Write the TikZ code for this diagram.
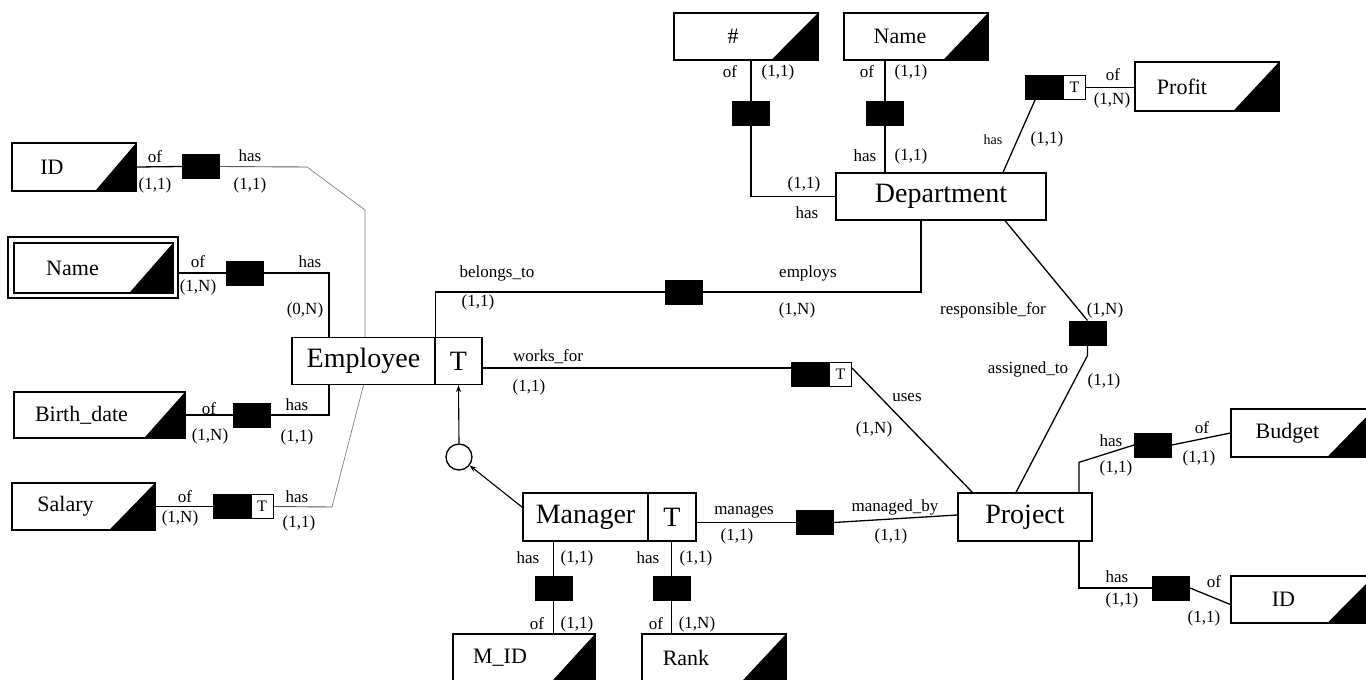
\documentclass[tikz,border=0pt]{standalone}
\usepackage{fontspec}
\setmainfont{Liberation Serif}
\usetikzlibrary{arrows.meta}
\newcommand\lblfont{\fontsize{17}{19}\selectfont}
\newcommand\smlblfont{\fontsize{14}{16}\selectfont}
\newcommand\entfont{\fontsize{28}{31}\selectfont}
\newcommand\attrfont{\fontsize{22}{24}\selectfont}
\newcommand\tfont{\fontsize{16}{18}\selectfont}
% black corner wedge of an attribute box: [wedge width]{node}
\newcommand\attrwedge[2][46]{\fill ([xshift=-#1pt]#2.south east) -- (#2.north east) -- (#2.south east) -- cycle;}
\begin{document}
\begin{tikzpicture}[x=1pt,y=-1pt,
  line/.style={line width=1.3pt},
  faint/.style={line width=0.7pt, gray},
  entity/.style={draw, line width=1.3pt, fill=white, inner sep=0pt, font=\entfont, minimum height=47pt},
  attr/.style 2 args={draw, line width=1.3pt, fill=white, inner sep=0pt,
     label={[font=\attrfont, xshift=#2 pt]center:#1}},
  rel/.style={fill=black, draw, line width=1pt, minimum width=37pt, minimum height=24pt, inner sep=0pt},
  relt/.style={draw, line width=1pt, fill=white, minimum width=22pt, minimum height=24pt, inner sep=0pt, font=\tfont},
  lbl/.style={font=\lblfont, inner sep=0pt},
  isa/.style={line width=1.1pt, -{Stealth[length=7pt,width=5pt]}},
]
\useasboundingbox (0,0) rectangle (1366,680);

% ---------- entities ----------
\node[entity, minimum width=143pt] (emp) at (363.5,361) {Employee};
\node[entity, minimum width=47pt] (empT) at (458.5,361) {T};
\node[entity, minimum width=210pt] (dept) at (941,196.5) {Department};
\node[entity, minimum width=134pt, minimum height=48pt] (proj) at (1025,517) {Project};
\node[entity, minimum width=125pt, minimum height=48pt] (mgr) at (585.5,517) {Manager};
\node[entity, minimum width=48pt, minimum height=48pt] (mgrT) at (672,517) {T};
\node[draw, circle, line width=1.3pt, minimum size=26pt, inner sep=0pt] (circ) at (459,457) {};

% ---------- attributes ----------
\node[attr={ID}{-22}, minimum width=124pt, minimum height=48pt] (idE) at (74,167) {};
\attrwedge[42]{idE}
\node[draw, line width=1.3pt, minimum width=170pt, minimum height=61pt, inner sep=0pt] (nameEo) at (93,267.5) {};
\node[attr={Name}{-21}, minimum width=159pt, minimum height=50pt] (nameE) at (93.5,268) {};
\attrwedge[45]{nameE}
\node[attr={Birth\_date}{-18}, minimum width=171pt, minimum height=46pt] (birth) at (99.5,415) {};
\attrwedge[42]{birth}
\node[attr={Salary}{-18}, minimum width=143pt, minimum height=47pt] (salary) at (83.5,506.5) {};
\attrwedge[47]{salary}
\node[attr={\#}{-13}, minimum width=144pt, minimum height=47pt] (hash) at (746,36.5) {};
\attrwedge[48]{hash}
\node[attr={Name}{-16}, minimum width=144pt, minimum height=47pt] (nameD) at (916,36.5) {};
\attrwedge[46]{nameD}
\node[attr={Profit}{-25}, minimum width=144pt, minimum height=49pt] (profit) at (1207,86.5) {};
\attrwedge[47]{profit}
\node[attr={Budget}{-15}, minimum width=143pt, minimum height=48pt] (budget) at (1302.5,433) {};
\attrwedge[48]{budget}
\node[attr={ID}{-19}, minimum width=143pt, minimum height=47pt] (idP) at (1302.5,599.5) {};
\attrwedge[48]{idP}
\node[attr={M\_ID}{-24}, minimum width=142pt, minimum height=48pt] (mid) at (524,658) {};
\attrwedge[45]{mid}
\node[attr={Rank}{-28}, minimum width=144pt, minimum height=48pt] (rank) at (714,658) {};
\attrwedge[46]{rank}

% ---------- relationships ----------
\node[rel] (r1) at (201,166.5) {};
\node[rel] (r2) at (245,273) {};
\node[rel] (r3) at (251.5,415) {};
\node[rel] (r4) at (231.5,506.5) {};
\node[relt, anchor=west] (r4t) at (r4.east) {T};
\node[rel] (r5) at (751,113.5) {};
\node[rel] (r6) at (885,113.5) {};
\node[rel] (r7) at (1044,87.5) {};
\node[relt, anchor=west] (r7t) at (r7.east) {T};
\node[rel] (r8) at (684,292) {};
\node[rel] (r9) at (810,374) {};
\node[relt, anchor=west] (r9t) at (r9.east) {T};
\node[rel] (r10) at (1087.5,333) {};
\node[rel] (r11) at (1153,445) {};
\node[rel] (r12) at (1171,588) {};
\node[rel] (r13) at (814.5,522.5) {};
\node[rel] (r14) at (553.5,588.5) {};
\node[rel] (r15) at (671.5,588.5) {};

% ---------- bend points ----------
\coordinate (b1) at (307,167);
\coordinate (b2) at (365,210);
\coordinate (b3) at (329,273);
\coordinate (b4) at (329,415);
\coordinate (b5) at (332,507);
\coordinate (b7) at ([xshift=-20pt]dept.south);
\coordinate (b8) at ([xshift=54pt]proj.north);
\coordinate (b9) at ([xshift=54pt]proj.south);

% ---------- Employee attributes ----------
\draw[line] (idE.east) -- (r1.west);
\draw[line width=0.9pt, gray!70!black] (r1.east) -- (b1);
\draw[faint] (b1) -- (b2) -- (b2 |- emp.north);
\draw[line] (r2.west -| nameEo.east) -- (r2.west);
\draw[line] (r2.east) -- (b3) -- (b3 |- emp.north);
\draw[line] (birth.east) -- (r3.west);
\draw[line] (r3.east) -- (b4) -- (b4 |- emp.south);
\draw[line] (salary.east) -- (r4.west);
\draw[line width=0.9pt, gray!70!black] (r4t.east) -- (b5);
\draw[faint] (b5) -- (emp.south);

% ---------- Department attributes ----------
\draw[line] (r5 |- hash.south) -- (r5.north);
\draw[line] (r5.south) -- (r5 |- dept.west) -- (dept.west);
\draw[line] (r6 |- nameD.south) -- (r6.north);
\draw[line] (r6.south) -- (r6 |- dept.north);
\draw[line] (r7t.east) -- (r7t.east -| profit.west);
\draw[line] ([xshift=-9pt]r7.south) -- ([xshift=62pt]dept.north);

% ---------- relationships between entities ----------
\draw[line] (emp.north east) -- (emp.north east |- r8.west) -- (r8.west);
\draw[line] (r8.east) -- (b7 |- r8.east) -- (b7);
\draw[line] ([yshift=-7pt]empT.east) -- ([yshift=6pt]r9.west);
\draw[line] ([yshift=6pt]r9t.east) -- ([xshift=15pt]proj.north west);
\draw[line] ([xshift=64pt]dept.south) -- (r10.north);
\draw[line] (r10.south) -- ++(0,10) -- ([xshift=-9pt]proj.north);
\draw[line] (mgrT.east |- r13.west) -- (r13.west);
\draw[line] (r13.east) -- ([yshift=2pt]proj.west);

% ---------- Project attributes ----------
\draw[line] (b8) -- ([yshift=30pt]b8) -- (r11.west);
\draw[line] (r11.east) -- (budget.west);
\draw[line] (b9) -- (b9 |- r12.west) -- (r12.west);
\draw[line] (r12.east) -- ([yshift=-5pt]idP.west);

% ---------- Manager attributes ----------
\draw[line] (r14 |- mgr.south) -- (r14.north);
\draw[line] (r14.south) -- (r14 |- mid.north);
\draw[line] (r15 |- mgrT.south) -- (r15.north);
\draw[line] (r15.south) -- (r15 |- rank.north);

% ---------- generalisation ----------
\draw[isa] (circ.north) -- (empT.south);
\draw[isa] ([yshift=-15pt]mgr.north west) -- (circ);

% ---------- role and cardinality labels ----------
\node[lbl] (t1) at (155,157) {of};
\node[lbl] (t2) at (155,185) {(1,1)};
\node[lbl] (t3) at (250,156) {has};
\node[lbl] (t4) at (250,185) {(1,1)};
\node[lbl] (t5) at (198,262) {of};
\node[lbl] (t6) at (198,287) {(1,N)};
\node[lbl] (t7) at (310,262) {has};
\node[lbl] (t8) at (305,310) {(0,N)};
\node[lbl] (t9) at (209,409) {of};
\node[lbl] (t10) at (210,436) {(1,N)};
\node[lbl] (t11) at (297,405) {has};
\node[lbl] (t12) at (297,437) {(1,1)};
\node[lbl] (t13) at (185,497) {of};
\node[lbl] (t14) at (180,518) {(1,N)};
\node[lbl] (t15) at (297,497) {has};
\node[lbl] (t16) at (299,523) {(1,1)};
\node[lbl] (t17) at (730,72) {of};
\node[lbl] (t18) at (778,72) {(1,1)};
\node[lbl] (t19) at (804,184) {(1,1)};
\node[lbl] (t20) at (807,213) {has};
\node[lbl] (t21) at (867,72) {of};
\node[lbl] (t22) at (911,72) {(1,1)};
\node[lbl] (t23) at (865,156) {has};
\node[lbl] (t24) at (911,156) {(1,1)};
\node[lbl, font=\smlblfont] (t25) at (993,140) {has};
\node[lbl] (t26) at (1047,139) {(1,1)};
\node[lbl] (t27) at (1113,75) {of};
\node[lbl] (t28) at (1112,100) {(1,N)};
\node[lbl] (t29) at (497,273) {belongs\_to};
\node[lbl] (t30) at (478,302) {(1,1)};
\node[lbl] (t31) at (808,273) {employs};
\node[lbl] (t32) at (797,310) {(1,N)};
\node[lbl] (t33) at (548,357) {works\_for};
\node[lbl] (t34) at (529,387) {(1,1)};
\node[lbl] (t35) at (907,398) {uses};
\node[lbl] (t36) at (874,429) {(1,N)};
\node[lbl] (t37) at (993,310) {responsible\_for};
\node[lbl] (t38) at (1105,310) {(1,N)};
\node[lbl] (t39) at (1028,369) {assigned\_to};
\node[lbl] (t40) at (1104,381) {(1,1)};
\node[lbl] (t41) at (1111,441) {has};
\node[lbl] (t42) at (1116,468) {(1,1)};
\node[lbl] (t43) at (1202,428) {of};
\node[lbl] (t44) at (1199,458) {(1,1)};
\node[lbl] (t45) at (1117,577) {has};
\node[lbl] (t46) at (1122,600) {(1,1)};
\node[lbl] (t47) at (1214,582) {of};
\node[lbl] (t48) at (1204,618) {(1,1)};
\node[lbl] (t49) at (744,512) {manages};
\node[lbl] (t50) at (737,536) {(1,1)};
\node[lbl] (t51) at (895,507) {managed\_by};
\node[lbl] (t52) at (891,536) {(1,1)};
\node[lbl] (t53) at (528,558) {has};
\node[lbl] (t54) at (577,558) {(1,1)};
\node[lbl] (t55) at (537,624) {of};
\node[lbl] (t56) at (577,624) {(1,1)};
\node[lbl] (t57) at (648,558) {has};
\node[lbl] (t58) at (696,558) {(1,1)};
\node[lbl] (t59) at (656,624) {of};
\node[lbl] (t60) at (697,624) {(1,N)};
\end{tikzpicture}
\end{document}
